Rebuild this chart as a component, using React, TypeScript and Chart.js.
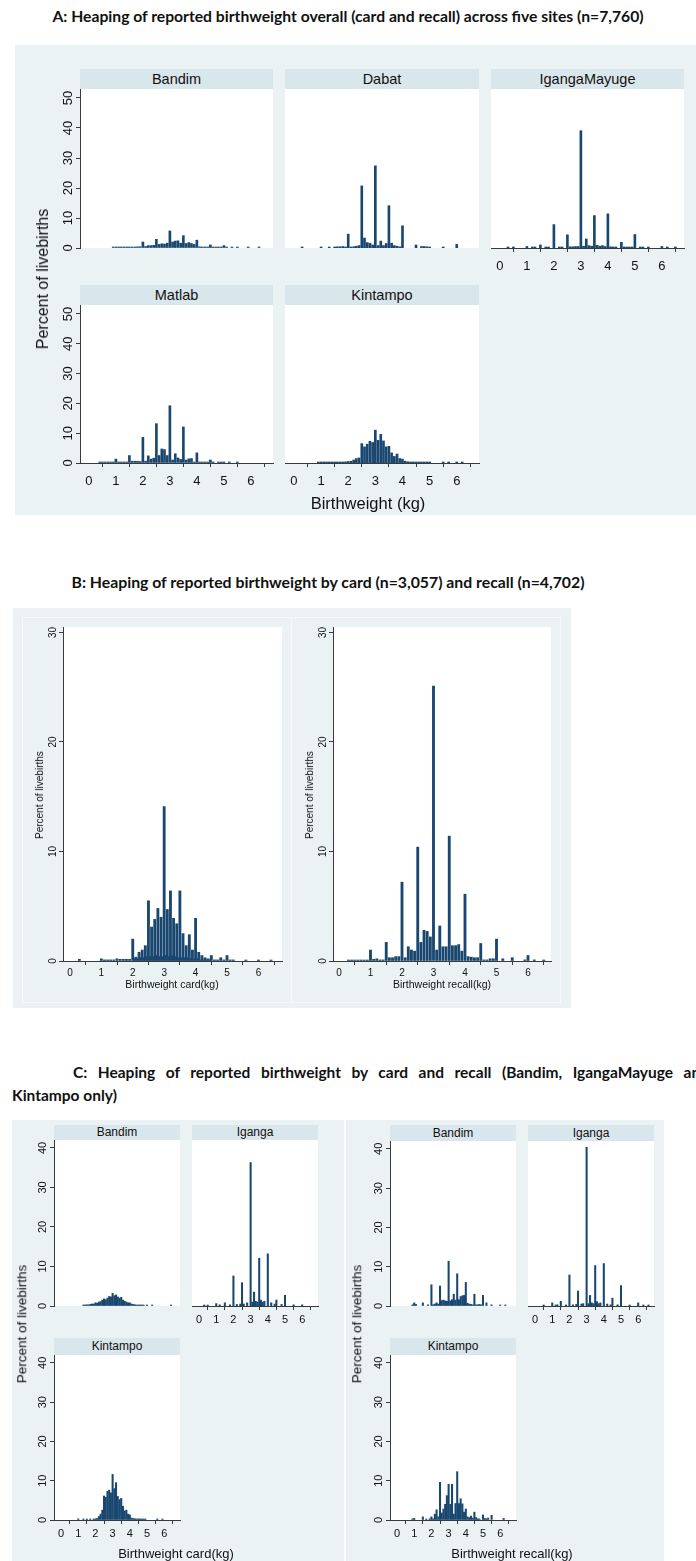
import React, { useEffect, useRef } from 'react';
import { Chart, registerables } from 'chart.js';
Chart.register(...registerables);

const NAVY = '#1a476f';
const BG = '#eaf2f3';
const STRIP = '#d9e6eb';
const AXIS = '#3a3a3a';
const TEXT = '#111';
const FONT = '"Liberation Sans", Arial, sans-serif';
const TFONT = 'Lato, "Open Sans", sans-serif';

const X_TICKS = [0, 1, 2, 3, 4, 5, 6];
const Y_TICKS_A = [0, 10, 20, 30, 40, 50];
const Y_TICKS_B = [0, 10, 20, 30];
const Y_TICKS_C = [0, 10, 20, 30, 40];

// ---- A: overall, five sites ----
const A_BANDIM_X = [0.9,1.0,1.1,1.2,1.3,1.4,1.5,1.6,1.7,1.8,1.9,2.0,2.1,2.2,2.3,2.4,2.5,2.6,2.7,2.8,2.9,3.0,3.1,3.2,3.3,3.4,3.5,3.6,3.7,3.8,3.9,4.0,4.1,4.2,4.3,4.4,4.5,4.6,4.7,4.8,4.9,5.0,5.1,5.3,5.5,5.9,6.3];
const A_BANDIM_Y = [0.2,0.2,0.2,0.2,0.3,0.3,0.3,0.3,0.3,0.4,0.4,2.0,0.5,0.8,0.8,0.9,2.9,1.2,1.4,1.3,1.6,5.7,2.0,2.3,2.4,1.6,4.1,1.5,1.8,1.5,1.2,2.6,0.4,0.3,0.3,0.3,1.0,0.3,0.2,0.3,0.2,0.8,0.2,0.2,0.2,0.2,0.2];

const A_DABAT_X = [0.3,1.0,1.3,1.5,1.6,1.7,1.8,1.9,2.0,2.1,2.2,2.3,2.4,2.5,2.6,2.7,2.8,2.9,3.0,3.1,3.2,3.3,3.4,3.5,3.6,3.7,3.8,3.9,4.0,4.5,4.7,4.8,4.9,5.0,5.5,6.0];
const A_DABAT_Y = [0.3,0.3,0.3,0.3,0.4,0.4,0.5,0.3,4.6,0.3,0.4,0.6,0.8,20.7,3.3,1.8,1.6,1.0,27.4,0.8,2.3,0.8,1.5,14.1,1.6,0.8,0.6,0.4,7.4,1.0,0.5,0.5,0.4,0.3,0.3,1.2];

const A_IGANGA_X = [0.3,0.5,1.0,1.2,1.3,1.5,1.7,1.8,2.0,2.2,2.3,2.5,2.6,2.7,2.8,2.9,3.0,3.1,3.2,3.3,3.4,3.5,3.6,3.7,3.8,3.9,4.0,4.1,4.2,4.3,4.5,4.6,4.7,4.8,4.9,5.0,5.2,5.3,5.5,6.0,6.2,6.5];
const A_IGANGA_Y = [0.2,0.2,0.5,0.2,0.2,1.0,0.2,0.2,7.8,0.2,0.3,4.4,0.4,0.4,0.5,0.5,39.1,0.6,3.0,0.8,0.6,10.8,0.9,0.6,0.8,0.5,11.4,0.4,0.3,0.2,1.9,0.2,0.2,0.2,0.2,4.5,0.2,0.2,0.2,0.5,0.2,0.2];

const A_MATLAB_X = [0.4,0.5,0.6,0.7,0.8,0.9,1.0,1.1,1.2,1.3,1.4,1.5,1.6,1.7,1.8,1.9,2.0,2.1,2.2,2.3,2.4,2.5,2.6,2.7,2.8,2.9,3.0,3.1,3.2,3.3,3.4,3.5,3.6,3.7,3.8,3.9,4.0,4.1,4.2,4.3,4.4,4.5,4.6,4.8,4.9,5.0,5.2,5.5];
const A_MATLAB_Y = [0.2,0.2,0.2,0.2,0.2,0.2,1.3,0.3,0.3,0.3,0.3,2.5,0.6,0.6,0.6,0.5,8.6,0.6,2.4,1.3,1.6,13.2,2.5,4.7,4.5,2.5,19.2,1.0,3.1,1.7,1.2,12.1,1.0,1.4,1.5,0.3,3.4,0.3,0.3,0.3,0.3,1.0,0.2,0.3,0.3,0.3,0.2,0.2];

const A_KINTAMPO_X = [0.9,1.0,1.1,1.2,1.3,1.4,1.5,1.6,1.7,1.8,1.9,2.0,2.1,2.2,2.3,2.4,2.5,2.6,2.7,2.8,2.9,3.0,3.1,3.2,3.3,3.4,3.5,3.6,3.7,3.8,3.9,4.0,4.1,4.2,4.3,4.4,4.5,4.6,4.7,4.8,4.9,5.0,5.5,5.7,6.0,6.2];
const A_KINTAMPO_Y = [0.2,0.2,0.2,0.2,0.2,0.2,0.3,0.3,0.3,0.3,0.4,0.5,0.6,1.0,1.5,1.7,6.5,5.4,6.3,7.3,6.9,11.0,7.6,9.6,7.4,5.4,5.6,3.4,2.2,3.0,1.5,1.3,0.6,0.4,0.3,0.3,0.2,0.2,0.2,0.2,0.2,0.2,0.2,0.2,0.2,0.2];

// ---- B: card vs recall ----
const B_CARD_X = [0.3,1.0,1.1,1.2,1.3,1.4,1.5,1.6,1.7,1.8,1.9,2.0,2.1,2.2,2.3,2.4,2.5,2.6,2.7,2.8,2.9,3.0,3.1,3.2,3.3,3.4,3.5,3.6,3.7,3.8,3.9,4.0,4.1,4.2,4.3,4.4,4.5,4.6,4.7,4.8,4.9,5.0,5.1,5.2,5.6,6.0,6.4];
const B_CARD_Y = [0.15,0.2,0.1,0.1,0.1,0.1,0.2,0.15,0.15,0.15,0.15,2.0,0.35,0.8,1.0,1.4,5.5,3.1,3.8,4.8,4.0,14.1,4.7,6.4,3.9,3.4,6.4,2.5,1.4,2.4,1.0,3.9,0.8,0.5,0.3,0.2,0.5,0.1,0.1,0.3,0.1,0.5,0.1,0.1,0.05,0.05,0.05];
// in-between values (half-bins) visible at the base of the card histogram
const B_CARD_MINOR_X = [2.05,2.15,2.25,2.35,2.45,2.55,2.65,2.75,2.85,2.95,3.05,3.15,3.25,3.35,3.45,3.55,3.65,3.75,3.85,3.95,4.05,4.15,4.25,4.35,4.45];
const B_CARD_MINOR_Y = [0.2,0.2,0.3,0.3,0.4,0.4,0.4,0.5,0.4,0.4,0.5,0.4,0.5,0.4,0.3,0.3,0.3,0.3,0.2,0.2,0.2,0.1,0.1,0.1,0.1];

const B_RECALL_X = [0.3,0.4,0.5,0.6,0.7,0.8,0.9,1.0,1.1,1.2,1.3,1.4,1.5,1.6,1.7,1.8,1.9,2.0,2.1,2.2,2.3,2.4,2.5,2.6,2.7,2.8,2.9,3.0,3.1,3.2,3.3,3.4,3.5,3.6,3.7,3.8,3.9,4.0,4.1,4.2,4.3,4.4,4.5,4.6,4.7,4.8,4.9,5.0,5.2,5.5,5.9,6.0,6.2,6.5];
const B_RECALL_Y = [0.05,0.05,0.05,0.05,0.05,0.05,0.05,1.0,0.15,0.2,0.1,0.1,1.7,0.3,0.3,0.4,0.4,7.2,0.3,1.3,1.0,0.9,10.4,1.7,2.8,2.7,2.2,25.1,1.0,3.2,1.3,1.3,11.4,1.4,1.4,1.5,0.9,6.1,0.4,0.35,0.3,0.3,1.6,0.1,0.1,0.2,0.2,2.0,0.2,0.3,0.1,0.5,0.1,0.05];

// ---- C: card / recall by site ----
const C_BANDIM_CARD_X = [1.3,1.4,1.5,1.6,1.7,1.8,1.9,2.0,2.1,2.2,2.3,2.4,2.5,2.6,2.7,2.8,2.9,3.0,3.1,3.2,3.3,3.4,3.5,3.6,3.7,3.8,3.9,4.0,4.1,4.2,4.3,4.4,4.5,4.6,4.7,4.8,5.0,5.3,6.4];
const C_BANDIM_CARD_Y = [0.2,0.2,0.3,0.3,0.4,0.5,0.5,0.8,0.7,1.0,1.1,1.5,1.8,1.6,2.0,2.4,2.3,3.2,2.6,2.8,2.3,2.0,2.2,1.5,1.2,1.0,0.8,0.8,0.5,0.4,0.3,0.2,0.2,0.2,0.2,0.2,0.2,0.2,0.2];

const C_IGANGA_CARD_X = [0.3,0.5,1.0,1.2,1.5,1.8,2.0,2.2,2.4,2.5,2.6,2.8,3.0,3.1,3.2,3.3,3.4,3.5,3.6,3.7,3.8,4.0,4.2,4.4,4.5,4.8,5.0,5.5,6.0];
const C_IGANGA_CARD_Y = [0.2,0.2,0.6,0.3,0.8,0.3,7.6,0.4,0.5,5.9,0.5,0.8,36.3,1.0,3.5,1.2,1.0,12.1,1.5,1.0,1.2,13.2,0.8,0.5,1.5,0.4,2.7,0.3,0.3];

const C_KINTAMPO_CARD_X = [1.0,1.3,1.5,1.7,1.9,2.0,2.1,2.2,2.3,2.4,2.5,2.6,2.7,2.8,2.9,3.0,3.1,3.2,3.3,3.4,3.5,3.6,3.7,3.8,3.9,4.0,4.1,4.2,4.3,4.4,4.5,4.6,4.7,4.8,4.9,5.6,5.9];
const C_KINTAMPO_CARD_Y = [0.3,0.1,0.2,0.1,0.2,0.3,0.4,0.9,1.5,2.5,6.1,5.8,7.3,7.6,6.9,11.6,8.0,9.5,6.0,5.2,5.5,3.5,2.3,2.5,1.5,1.3,0.5,0.4,0.3,0.2,0.3,0.2,0.2,0.2,0.2,0.1,0.1];

const C_BANDIM_RECALL_X = [0.9,1.0,1.1,1.5,1.8,2.0,2.1,2.2,2.3,2.4,2.5,2.6,2.7,2.8,2.9,3.0,3.1,3.2,3.3,3.4,3.5,3.6,3.7,3.8,3.9,4.0,4.1,4.2,4.3,4.4,4.5,4.6,4.7,4.8,4.9,5.0,5.2,5.5,6.0,6.3];
const C_BANDIM_RECALL_Y = [0.3,0.8,0.4,0.8,0.3,5.4,0.3,0.5,0.8,0.5,5.1,1.4,1.5,1.3,1.2,11.4,1.3,1.6,3.0,1.5,8.2,1.6,2.4,2.6,2.7,6.0,0.7,0.5,0.4,0.3,3.0,0.3,0.3,0.4,0.3,2.7,0.8,0.3,0.2,0.2];

const C_IGANGA_RECALL_X = [0.5,1.0,1.2,1.3,1.5,1.8,2.0,2.2,2.4,2.5,2.7,2.8,3.0,3.1,3.2,3.3,3.4,3.5,3.6,3.7,3.8,4.0,4.2,4.4,4.5,4.8,5.0,5.5,6.0,6.3,6.6];
const C_IGANGA_RECALL_Y = [0.2,0.8,0.2,0.3,1.2,0.2,7.9,0.3,0.4,3.8,0.5,0.6,40.4,0.6,2.7,0.8,0.6,10.3,1.1,0.6,0.8,10.8,0.5,0.3,2.0,0.3,5.2,0.2,0.8,0.2,0.2];

const C_KINTAMPO_RECALL_X = [0.9,1.0,1.5,1.7,1.9,2.0,2.1,2.2,2.3,2.4,2.5,2.6,2.7,2.8,2.9,3.0,3.1,3.2,3.3,3.4,3.5,3.6,3.7,3.8,3.9,4.0,4.1,4.2,4.3,4.4,4.5,4.6,4.7,4.8,5.0,5.1,5.2,5.3,5.5,6.2];
const C_KINTAMPO_RECALL_Y = [0.3,0.4,0.8,0.2,0.3,0.8,0.3,1.5,2.6,0.8,9.6,1.8,2.8,4.0,6.2,9.1,4.0,9.1,1.5,4.2,12.3,4.2,5.4,4.1,2.0,2.8,0.8,0.6,1.0,0.5,2.0,0.6,0.3,0.2,1.3,0.4,0.3,0.5,1.2,0.4];

const rotY = {
  id: 'rotY',
  afterDraw(chart: any, _args: any, opts: any) {
    if (!opts || !opts.show) return;
    const s = chart.scales.y;
    const ctx = chart.ctx;
    ctx.save();
    ctx.font = `${opts.size}px ${FONT}`;
    ctx.fillStyle = TEXT;
    ctx.textAlign = 'center';
    ctx.textBaseline = 'alphabetic';
    for (const t of s.ticks) {
      const py = s.getPixelForValue(t.value);
      ctx.save();
      ctx.translate(s.right - opts.offset, py);
      ctx.rotate(-Math.PI / 2);
      ctx.fillText(String(t.value), 0, 0);
      ctx.restore();
    }
    ctx.restore();
  },
};

interface PanelProps {
  left: number; top: number; w: number; h: number;
  xmin: number; xmax: number; ymax: number; yTicks: number[];
  showX: boolean; showY: boolean;
  xs: number[]; ys: number[]; xs2?: number[]; ys2?: number[];
  bar: number; tickSize: number; tickLen: number; xPad: number; yOff: number;
}

const M = { l: 44, r: 4, t: 4, b: 34 };

function Panel(p: PanelProps) {
  const ref = useRef<HTMLCanvasElement>(null);
  const cw = p.w + M.l + M.r;
  const ch = p.h + M.t + M.b;
  useEffect(() => {
    const gridOpts = { display: true, drawOnChartArea: false, drawTicks: true, tickLength: p.tickLen, color: AXIS, lineWidth: 1 };
    const datasets: any[] = [{
      data: p.xs.map((x, i) => ({ x, y: p.ys[i] })),
      backgroundColor: NAVY, borderWidth: 0, barThickness: p.bar, minBarLength: 1, grouped: false,
    }];
    if (p.xs2 && p.ys2) {
      const ys2 = p.ys2;
      datasets.push({
        data: p.xs2.map((x, i) => ({ x, y: ys2[i] })),
        backgroundColor: NAVY, borderWidth: 0, barThickness: p.bar * 0.8, minBarLength: 1, grouped: false,
      });
    }
    const chart = new Chart(ref.current as HTMLCanvasElement, {
      type: 'bar',
      data: { datasets },
      options: {
        animation: false,
        responsive: false,
        maintainAspectRatio: false,
        events: [],
        layout: { padding: { left: p.showY ? 0 : M.l, right: M.r, top: M.t, bottom: p.showX ? 0 : M.b } },
        plugins: { legend: { display: false }, tooltip: { enabled: false }, rotY: { show: p.showY, size: p.tickSize, offset: p.yOff } } as any,
        scales: {
          x: {
            type: 'linear', min: p.xmin, max: p.xmax, display: p.showX, offset: false,
            afterBuildTicks: (s: any) => { s.ticks = X_TICKS.map((v) => ({ value: v })); },
            afterFit: (s: any) => { s.height = p.showX ? M.b : 0; },
            grid: gridOpts as any,
            border: { display: true, color: AXIS, width: 1 },
            ticks: { font: { family: FONT, size: p.tickSize }, color: TEXT, padding: p.xPad, maxRotation: 0, minRotation: 0, autoSkip: false },
          } as any,
          y: {
            type: 'linear', min: 0, max: p.ymax, display: p.showY,
            afterBuildTicks: (s: any) => { s.ticks = p.yTicks.map((v) => ({ value: v })); },
            afterFit: (s: any) => { s.width = p.showY ? M.l : 0; },
            grid: gridOpts as any,
            border: { display: true, color: AXIS, width: 1 },
            ticks: { display: false },
          } as any,
        },
      },
      plugins: [rotY as any],
    });
    return () => chart.destroy();
  }, []);
  return (
    <canvas ref={ref} width={cw} height={ch}
      style={{ position: 'absolute', left: p.left - M.l, top: p.top - M.t, width: cw, height: ch }} />
  );
}

function Box(props: { l: number; t: number; w: number; h: number; bg: string; border?: string }) {
  return <div style={{ position: 'absolute', left: props.l, top: props.t, width: props.w, height: props.h, background: props.bg, border: props.border, boxSizing: 'border-box' }} />;
}

function Strip(props: { l: number; t: number; w: number; h: number; text: string; size: number }) {
  return (
    <div style={{ position: 'absolute', left: props.l, top: props.t, width: props.w, height: props.h, background: STRIP, color: TEXT, fontFamily: FONT, fontSize: props.size, lineHeight: props.h + 'px', textAlign: 'center', whiteSpace: 'nowrap' }}>{props.text}</div>
  );
}

function Label(props: { cx: number; cy: number; text: string; size: number; rot?: boolean; bold?: boolean; family?: string }) {
  return (
    <div style={{ position: 'absolute', left: props.cx, top: props.cy, transform: `translate(-50%, -50%)${props.rot ? ' rotate(-90deg)' : ''}`, fontFamily: props.family || FONT, fontSize: props.size, fontWeight: props.bold ? 700 : 400, color: TEXT, whiteSpace: 'nowrap', lineHeight: 1 }}>{props.text}</div>
  );
}

export default function App() {
  const A = { xmin: -0.33, xmax: 6.82, ymax: 53, yTicks: Y_TICKS_A, bar: 2, tickSize: 13, tickLen: 4, xPad: 7, yOff: 8 };
  const B = { ymax: 30.5, yTicks: Y_TICKS_B, bar: 2.2, tickSize: 10, tickLen: 4, xPad: 2, yOff: 7 };
  const C = { xmin: -0.41, xmax: 6.92, ymax: 42, yTicks: Y_TICKS_C, bar: 1.4, tickSize: 11, tickLen: 4, xPad: 3, yOff: 8 };
  return (
    <div style={{ position: 'absolute', left: 0, top: 0, width: 696, height: 1561, overflow: 'hidden', background: '#fff' }}>
      {/* ---------- A ---------- */}
      <Label cx={348} cy={17} text="A: Heaping of reported birthweight overall (card and recall) across five sites (n=7,760)" size={15.7} bold family={TFONT} />
      <Box l={15} t={45} w={681} h={470} bg={BG} />
      <Box l={80} t={89} w={193} h={159} bg="#fff" />
      <Box l={285} t={89} w={194} h={159} bg="#fff" />
      <Box l={491} t={89} w={193} h={159} bg="#fff" />
      <Box l={80} t={305} w={193} h={158} bg="#fff" />
      <Box l={285} t={305} w={194} h={158} bg="#fff" />
      <Strip l={80} t={69} w={193} h={20} text="Bandim" size={14.5} />
      <Strip l={285} t={69} w={194} h={20} text="Dabat" size={14.5} />
      <Strip l={491} t={69} w={193} h={20} text="IgangaMayuge" size={14.5} />
      <Strip l={80} t={285} w={193} h={20} text="Matlab" size={14.5} />
      <Strip l={285} t={285} w={194} h={20} text="Kintampo" size={14.5} />
      <Panel left={80} top={89} w={193} h={159} {...A} showX={false} showY={true} xs={A_BANDIM_X} ys={A_BANDIM_Y} />
      <Panel left={285} top={89} w={194} h={159} {...A} showX={false} showY={false} xs={A_DABAT_X} ys={A_DABAT_Y} />
      <Panel left={491} top={89} w={193} h={159} {...A} showX={true} showY={false} xs={A_IGANGA_X} ys={A_IGANGA_Y} />
      <Panel left={80} top={305} w={193} h={158} {...A} showX={true} showY={true} xs={A_MATLAB_X} ys={A_MATLAB_Y} />
      <Panel left={285} top={305} w={194} h={158} {...A} showX={true} showY={false} xs={A_KINTAMPO_X} ys={A_KINTAMPO_Y} />
      <Label cx={43} cy={279} text="Percent of livebirths" size={16} rot />
      <Label cx={368} cy={503} text="Birthweight (kg)" size={16.5} />

      {/* ---------- B ---------- */}
      <Label cx={328} cy={582} text="B: Heaping of reported birthweight by card (n=3,057) and recall (n=4,702)" size={15.8} bold family={TFONT} />
      <Box l={13} t={608} w={558} h={400} bg={BG} />
      <Box l={22} t={617} w={270} h={386} bg={BG} border="1px solid #f7fafb" />
      <Box l={291} t={617} w={270} h={386} bg={BG} border="1px solid #f7fafb" />
      <Box l={63} t={627} w={219} h={334} bg="#fff" />
      <Box l={333} t={627} w={218} h={334} bg="#fff" />
      <Panel left={63} top={627} w={219} h={334} {...B} xmin={-0.22} xmax={6.75} showX={true} showY={true} xs={B_CARD_X} ys={B_CARD_Y} xs2={B_CARD_MINOR_X} ys2={B_CARD_MINOR_Y} />
      <Panel left={333} top={627} w={218} h={334} {...B} xmin={-0.19} xmax={6.73} showX={true} showY={true} xs={B_RECALL_X} ys={B_RECALL_Y} />
      <Label cx={40} cy={795} text="Percent of livebirths" size={10} rot />
      <Label cx={310} cy={795} text="Percent of livebirths" size={10} rot />
      <Label cx={172} cy={984} text="Birthweight card(kg)" size={10.5} />
      <Label cx={442} cy={984} text="Birthweight recall(kg)" size={10.5} />

      {/* ---------- C ---------- */}
      <div style={{ position: 'absolute', left: 73, top: 1062, width: 636, fontFamily: TFONT, fontWeight: 700, fontSize: 15.5, color: TEXT, textAlign: 'justify', textAlignLast: 'justify', lineHeight: '20px' } as any}>
        C: Heaping of reported birthweight by card and recall (Bandim, IgangaMayuge and
      </div>
      <div style={{ position: 'absolute', left: 12, top: 1085, fontFamily: TFONT, fontWeight: 700, fontSize: 15.5, color: TEXT, lineHeight: '20px', whiteSpace: 'nowrap' }}>Kintampo only)</div>
      <Box l={12} t={1120} w={332} h={441} bg={BG} />
      <Box l={346} t={1120} w={318} h={441} bg={BG} />
      <Box l={54} t={1140} w={126} h={166} bg="#fff" />
      <Box l={192} t={1140} w={126} h={166} bg="#fff" />
      <Box l={54} t={1355} w={126} h={165} bg="#fff" />
      <Box l={390} t={1141} w={126} h={165} bg="#fff" />
      <Box l={528} t={1141} w={126} h={165} bg="#fff" />
      <Box l={390} t={1355} w={126} h={165} bg="#fff" />
      <Strip l={54} t={1125} w={126} h={15} text="Bandim" size={12} />
      <Strip l={192} t={1125} w={126} h={15} text="Iganga" size={12} />
      <Strip l={54} t={1338} w={126} h={17} text="Kintampo" size={12} />
      <Strip l={390} t={1125} w={126} h={16} text="Bandim" size={12} />
      <Strip l={528} t={1125} w={126} h={16} text="Iganga" size={12} />
      <Strip l={390} t={1338} w={126} h={17} text="Kintampo" size={12} />
      <Panel left={54} top={1140} w={126} h={166} {...C} showX={false} showY={true} xs={C_BANDIM_CARD_X} ys={C_BANDIM_CARD_Y} />
      <Panel left={192} top={1140} w={126} h={166} {...C} showX={true} showY={false} xs={C_IGANGA_CARD_X} ys={C_IGANGA_CARD_Y} />
      <Panel left={54} top={1355} w={126} h={165} {...C} showX={true} showY={true} xs={C_KINTAMPO_CARD_X} ys={C_KINTAMPO_CARD_Y} />
      <Panel left={390} top={1141} w={126} h={165} {...C} showX={false} showY={true} xs={C_BANDIM_RECALL_X} ys={C_BANDIM_RECALL_Y} />
      <Panel left={528} top={1141} w={126} h={165} {...C} showX={true} showY={false} xs={C_IGANGA_RECALL_X} ys={C_IGANGA_RECALL_Y} />
      <Panel left={390} top={1355} w={126} h={165} {...C} showX={true} showY={true} xs={C_KINTAMPO_RECALL_X} ys={C_KINTAMPO_RECALL_Y} />
      <Label cx={22} cy={1324} text="Percent of livebirths" size={13.5} rot />
      <Label cx={357} cy={1324} text="Percent of livebirths" size={13.5} rot />
      <Label cx={176} cy={1553} text="Birthweight card(kg)" size={13} />
      <Label cx={512} cy={1553} text="Birthweight recall(kg)" size={13} />
    </div>
  );
}
